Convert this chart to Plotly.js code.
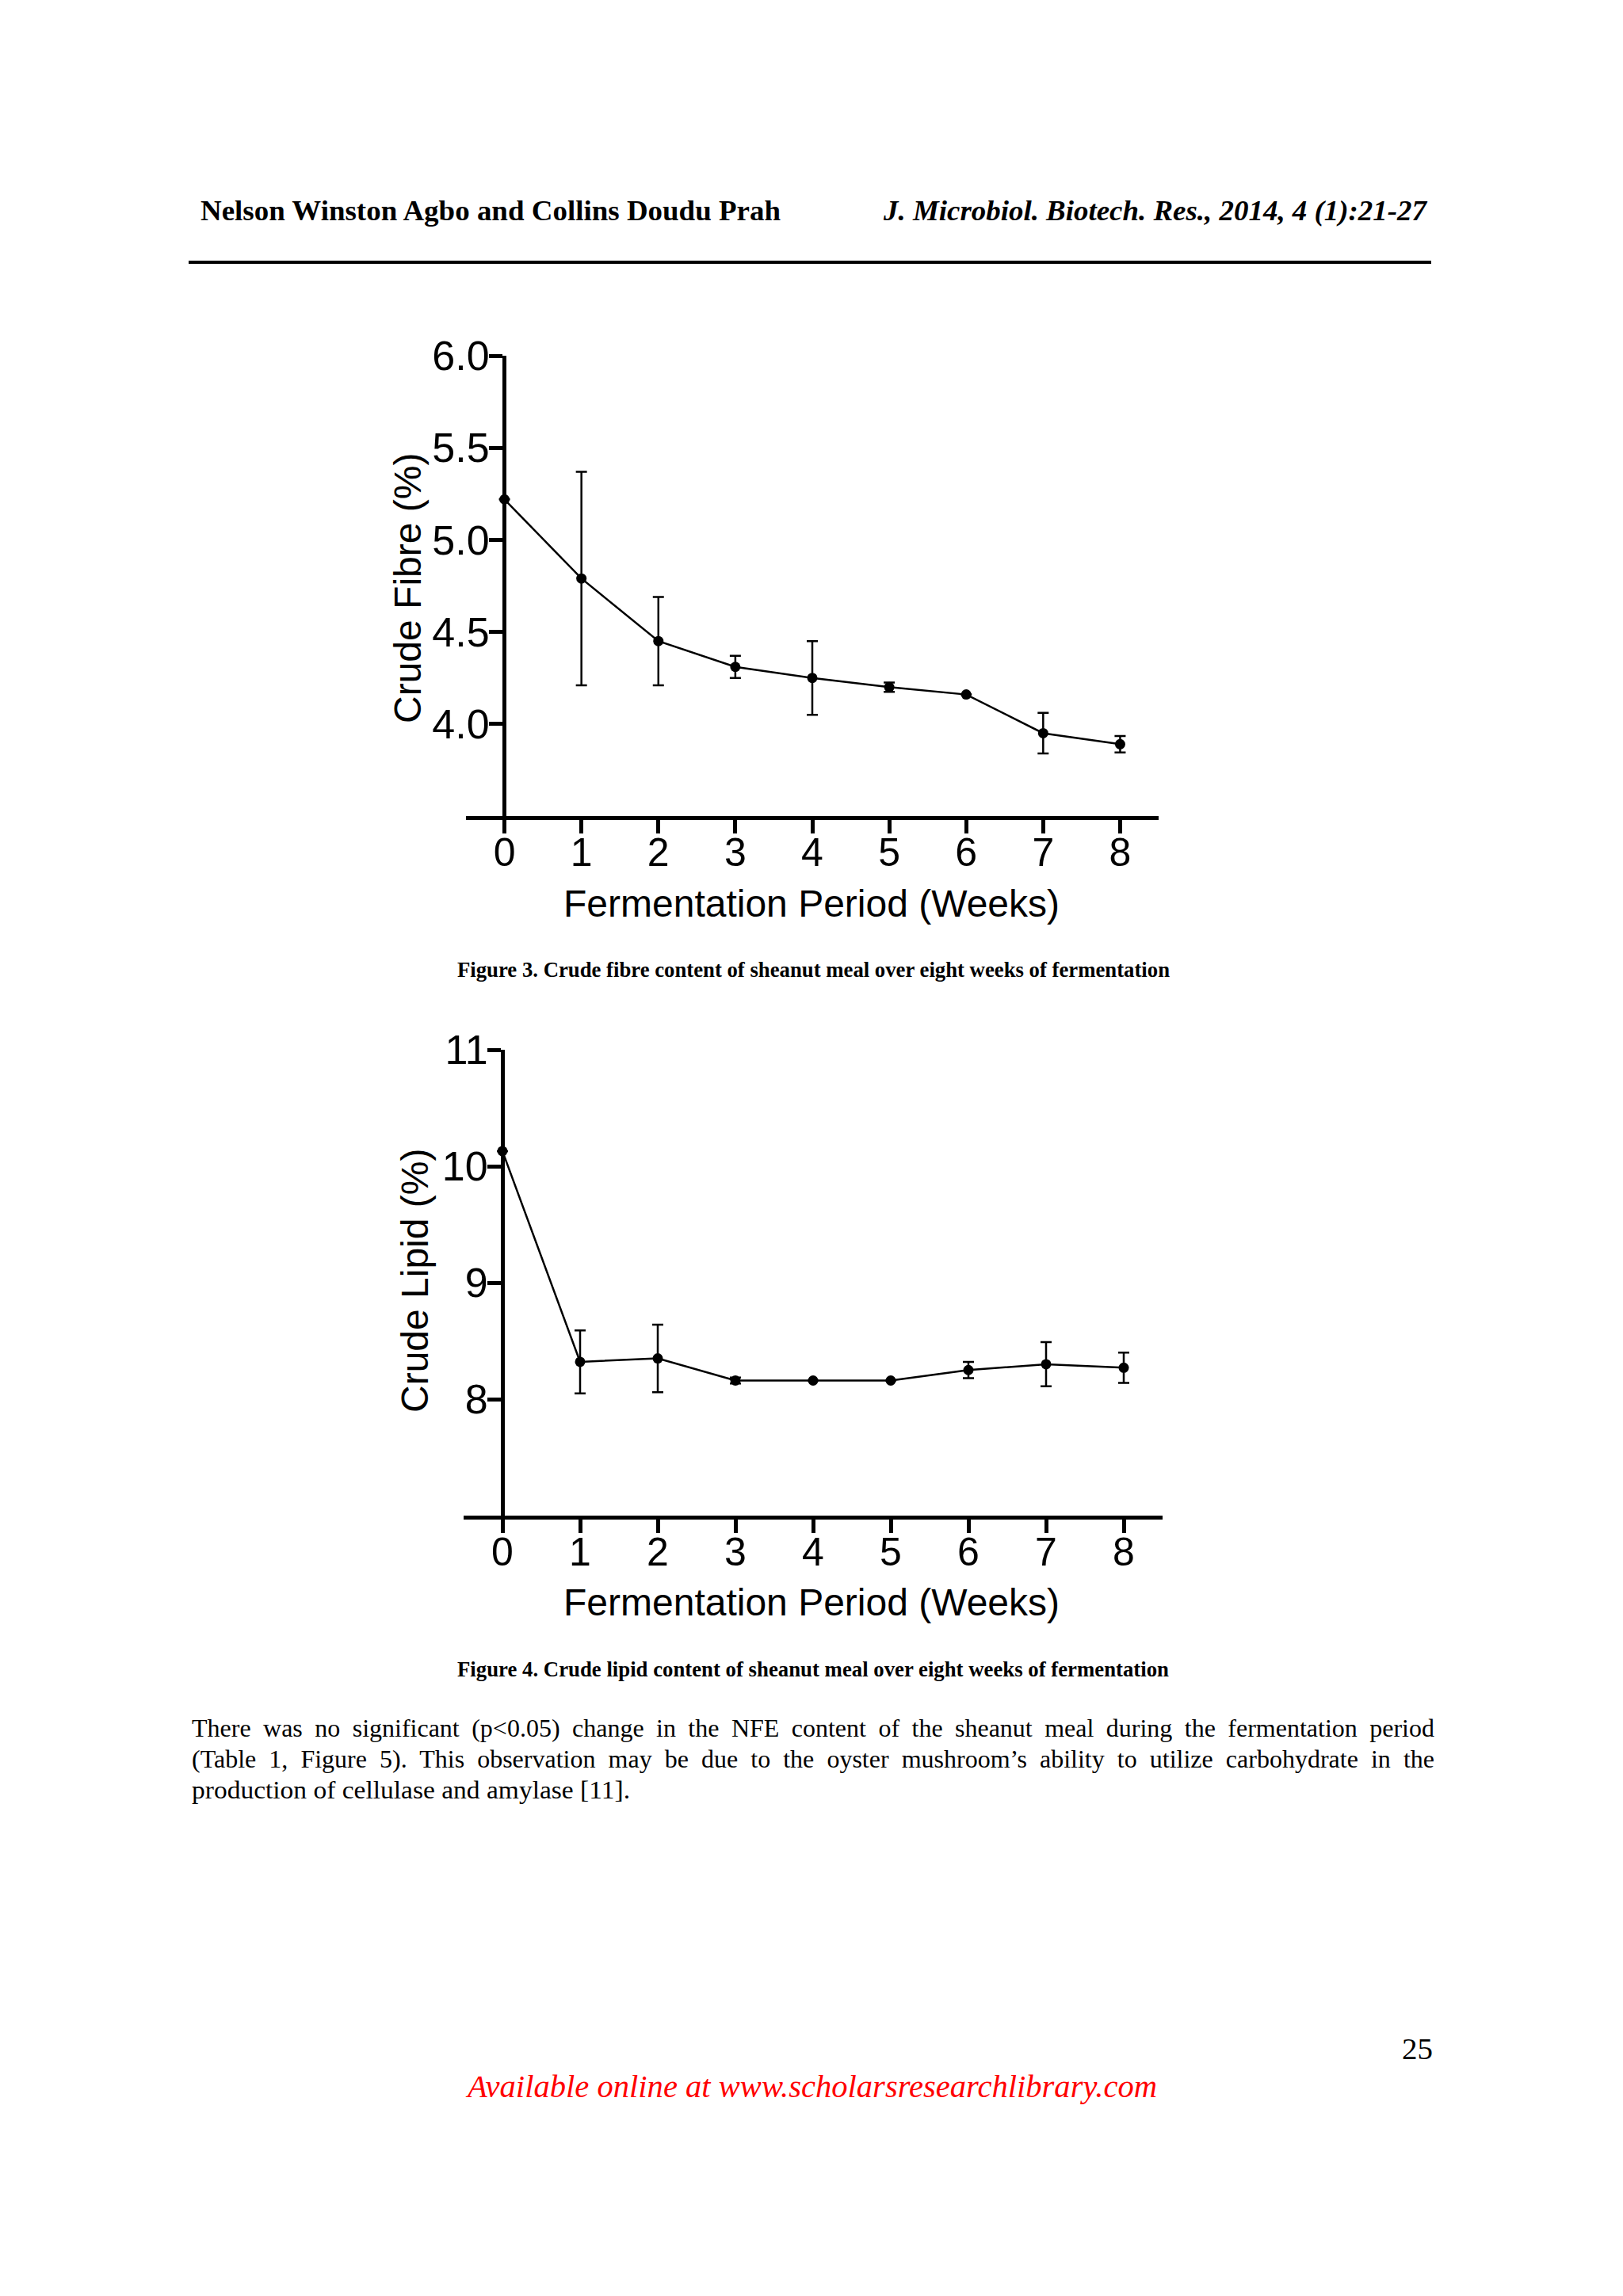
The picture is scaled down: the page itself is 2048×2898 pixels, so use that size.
<!DOCTYPE html>
<html>
<head>
<meta charset="utf-8">
<script src="https://cdn.plot.ly/plotly-3.0.1.min.js"></script>
<style>
  html, body { margin: 0; padding: 0; background: #ffffff; }
  #page { position: relative; width: 2048px; height: 2898px; overflow: hidden; background: #ffffff; }
  #plot { position: absolute; left: 0; top: 0; width: 2048px; height: 2898px; }
  .t { position: absolute; white-space: nowrap; line-height: 1; display: inline-block; color: #000; transform-origin: left center; }
  .serif { font-family: "Liberation Serif", "Times New Roman", serif; }
  #rule { position: absolute; left: 238px; top: 329px; width: 1568px; height: 4px; background: #000; }
</style>
</head>
<body>
<div id="page">
  <div id="plot"></div>
  <div id="rule"></div>
</div>
<script>
// ---------- data ----------
const weeks = [0, 1, 2, 3, 4, 5, 6, 7, 8];
const weekLabels = ["0", "1", "2", "3", "4", "5", "6", "7", "8"];

const fibreMean = [5.22, 4.79, 4.45, 4.31, 4.25, 4.20, 4.16, 3.95, 3.89];
const fibreErr  = [0.00, 0.58, 0.24, 0.06, 0.20, 0.025, 0.00, 0.11, 0.045];
const fibreTickVals = [4.0, 4.5, 5.0, 5.5, 6.0];
const fibreTickText = ["4.0", "4.5", "5.0", "5.5", "6.0"];

const lipidMean = [10.13, 8.32, 8.35, 8.16, 8.16, 8.16, 8.25, 8.30, 8.27];
const lipidErr  = [0.00, 0.27, 0.29, 0.025, 0.00, 0.00, 0.07, 0.19, 0.13];
const lipidTickVals = [8, 9, 10, 11];
const lipidTickText = ["8", "9", "10", "11"];

const xTitle = "Fermentation Period (Weeks)";
const fibreTitle = "Crude Fibre (%)";
const lipidTitle = "Crude Lipid (%)";

const headerLeft = "Nelson Winston Agbo and Collins Doudu Prah";
const headerRight = "J. Microbiol. Biotech. Res., 2014, 4 (1):21-27";
const caption3 = "Figure 3. Crude fibre content of sheanut meal over eight weeks of fermentation";
const caption4 = "Figure 4. Crude lipid content of sheanut meal over eight weeks of fermentation";
const paraLines = [
  "There was no significant (p<0.05) change in the NFE content of the sheanut meal during the fermentation period",
  "(Table 1, Figure 5). This observation may be due to the oyster mushroom\u2019s ability to utilize carbohydrate in the",
  "production of cellulase and amylase [11]."
];
const pageNumber = "25";
const footer = "Available online at www.scholarsresearchlibrary.com";

// ---------- chart ----------
const W = 2048, H = 2898;
const px = v => v / W;
const py = v => 1 - v / H;

const sansFont = "Liberation Sans, Arial, Helvetica, sans-serif";

function series(xs, ys, es, xa, ya) {
  return {
    x: xs, y: ys, xaxis: xa, yaxis: ya,
    type: "scatter", mode: "lines+markers",
    line: { color: "#000", width: 2.5 },
    marker: { color: "#000", size: 13 },
    error_y: { type: "data", array: es, visible: true, color: "#000", thickness: 2.5, width: 7 },
    hoverinfo: "skip", cliponaxis: false
  };
}

function xAxis(domain, anchor) {
  return {
    domain: domain, anchor: anchor, range: [-0.5, 8.5],
    tickmode: "array", tickvals: weeks, ticktext: weekLabels,
    ticks: "outside", ticklen: 17, tickwidth: 5, tickcolor: "#000",
    ticklabelstandoff: -19,
    showline: true, linewidth: 5, linecolor: "#000",
    showgrid: false, zeroline: false,
    tickfont: { size: 50, family: sansFont, color: "#000" },
    fixedrange: true
  };
}
function yAxis(domain, pos, range, tv, tt) {
  return {
    domain: domain, anchor: "free", position: pos, range: range,
    tickmode: "array", tickvals: tv, ticktext: tt,
    ticks: "outside", ticklen: 17, tickwidth: 5, tickcolor: "#000",
    ticklabelstandoff: -11,
    showline: true, linewidth: 5, linecolor: "#000",
    showgrid: false, zeroline: false,
    tickfont: { size: 52, family: sansFont, color: "#000" },
    fixedrange: true
  };
}

const data = [
  series(weeks, fibreMean, fibreErr, "x", "y"),
  series(weeks, lipidMean, lipidErr, "x2", "y2")
];

const layout = {
  width: W, height: H,
  margin: { l: 0, r: 0, t: 0, b: 0, pad: 0 },
  paper_bgcolor: "rgba(0,0,0,0)", plot_bgcolor: "rgba(0,0,0,0)",
  showlegend: false,
  font: { family: sansFont, color: "#000" },
  xaxis: xAxis([px(588), px(1462)], "y"),
  yaxis: yAxis([py(1030), py(449)], px(636), [3.5, 6.0], fibreTickVals, fibreTickText),
  xaxis2: xAxis([px(585), px(1467)], "y2"),
  yaxis2: yAxis([py(1913), py(1325)], px(634), [7, 11], lipidTickVals, lipidTickText),
  annotations: [
    { text: xTitle, xref: "paper", yref: "paper", x: px(1024), y: py(1140), xanchor: "center", yanchor: "middle", showarrow: false, font: { size: 48, family: sansFont, color: "#000" } },
    { text: xTitle, xref: "paper", yref: "paper", x: px(1024), y: py(2022), xanchor: "center", yanchor: "middle", showarrow: false, font: { size: 48, family: sansFont, color: "#000" } },
    { text: fibreTitle, xref: "paper", yref: "paper", x: px(514), y: py(743), xanchor: "center", yanchor: "middle", textangle: -90, showarrow: false, font: { size: 48, family: sansFont, color: "#000" } },
    { text: lipidTitle, xref: "paper", yref: "paper", x: px(523), y: py(1617), xanchor: "center", yanchor: "middle", textangle: -90, showarrow: false, font: { size: 48, family: sansFont, color: "#000" } }
  ]
};

Plotly.newPlot("plot", data, layout, { displayModeBar: false, staticPlot: true });

// ---------- page text ----------
const page = document.getElementById("page");
function addText(txt, o) {
  const s = document.createElement("span");
  s.className = "t serif";
  s.textContent = txt;
  s.style.fontSize = o.size + "px";
  if (o.weight) s.style.fontWeight = o.weight;
  if (o.style) s.style.fontStyle = o.style;
  if (o.color) s.style.color = o.color;
  s.style.left = o.left + "px";
  s.style.top = (o.cy - o.size * 0.5) + "px";
  page.appendChild(s);
  o.el = s;
  return o;
}
const items = [];
items.push(addText(headerLeft, { left: 253, right: 985, cy: 266, size: 36, weight: "bold" }));
items.push(addText(headerRight, { left: 1115, right: 1800, cy: 266, size: 36, weight: "bold", style: "italic" }));
items.push(addText(caption3, { left: 577, right: 1476, cy: 1224, size: 28, weight: "bold" }));
items.push(addText(caption4, { left: 577, right: 1475, cy: 2107, size: 28, weight: "bold" }));
items.push(addText(paraLines[0], { left: 242, right: 1810, cy: 2181, size: 32, justify: true }));
items.push(addText(paraLines[1], { left: 242, right: 1810, cy: 2220, size: 32, justify: true }));
items.push(addText(paraLines[2], { left: 242, right: 795, cy: 2259, size: 32 }));
items.push(addText(pageNumber, { left: 1769, right: 1808, cy: 2586, size: 38 }));
items.push(addText(footer, { left: 590, right: 1460, cy: 2634, size: 40, style: "italic", color: "#ff0000" }));

function fitAll() {
  items.forEach(o => {
    const s = o.el;
    s.style.transform = "none";
    s.style.width = "auto";
    s.style.whiteSpace = "nowrap";
    s.style.textAlign = "left";
    const w = s.getBoundingClientRect().width;
    const target = o.right - o.left;
    if (o.justify && w < target) {
      s.style.width = target + "px";
      s.style.whiteSpace = "normal";
      s.style.textAlign = "justify";
      s.style.textAlignLast = "justify";
    } else {
      s.style.transform = "scaleX(" + (target / w) + ")";
    }
  });
}
fitAll();
if (document.fonts && document.fonts.ready) document.fonts.ready.then(fitAll);
</script>
</body>
</html>
